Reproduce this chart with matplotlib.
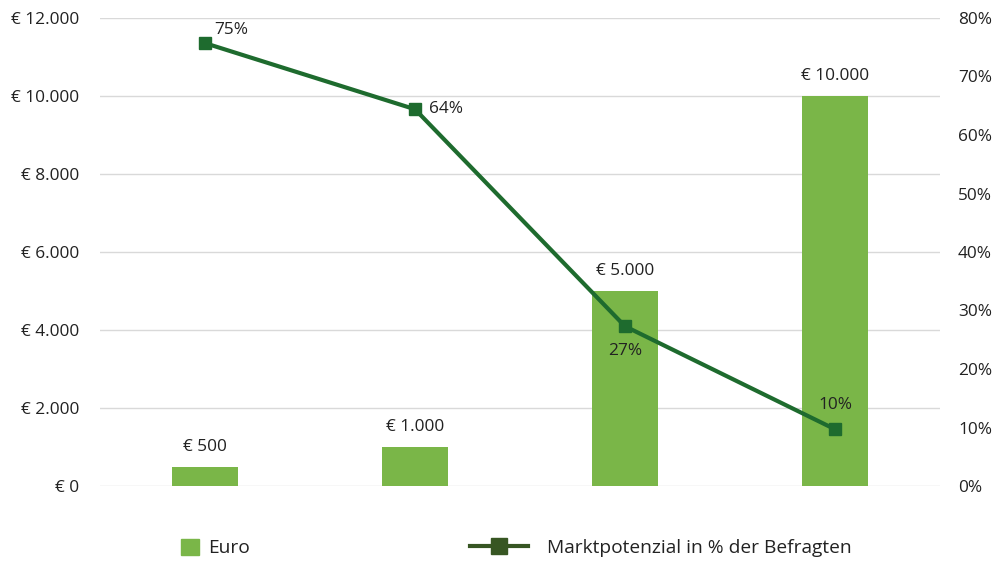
import matplotlib.pyplot as plt
import numpy as np
from matplotlib.lines import Line2D
from matplotlib.patches import Patch

plt.rcParams['font.family'] = ['Open Sans', 'DejaVu Sans']

kategorien = ['500', '1.000', '5.000', '10.000']
euro = [500, 1000, 5000, 10000]
markt = [75.7, 64.4, 27.3, 9.7]
markt_labels = ['75%', '64%', '27%', '10%']

bar_col = '#7AB648'
line_col = '#1E6B2E'
txt = '#222222'
fs = 12.4

fig = plt.figure(figsize=(9.97, 5.62), dpi=100)
ax = fig.add_axes([100/997, 1-486/562, 840/997, 468/562])
ax2 = ax.twinx()

x = np.arange(len(euro))
ax.bar(x, euro, width=0.31, color=bar_col, zorder=2)
ax.set_xlim(-0.5, 3.5)
ax.set_ylim(0, 12000)
ax.set_yticks(np.arange(0, 12001, 2000))
ax.set_yticklabels(['€ ' + f'{v:,}'.replace(',', '.') for v in range(0, 12001, 2000)])
ax.yaxis.grid(True, color='#D9D9D9', lw=1)
ax.set_axisbelow(True)
ax.set_xticks([])
for s in ax.spines.values():
    s.set_visible(False)
for s in ax2.spines.values():
    s.set_visible(False)
ax.tick_params(axis='y', length=0, pad=15, labelsize=fs, labelcolor=txt)

for xi, v in zip(x, euro):
    ax.text(xi, v + 300, '€ ' + f'{v:,}'.replace(',', '.'), ha='center', va='bottom',
            fontsize=fs, color=txt)

ax2.plot(x, markt, color=line_col, lw=3, marker='s', ms=8, zorder=3)
ax2.set_ylim(0, 80)
ax2.set_yticks(np.arange(0, 81, 10))
ax2.set_yticklabels([f'{v}%' for v in range(0, 81, 10)])
ax2.tick_params(axis='y', length=0, pad=13, labelsize=fs, labelcolor=txt)

offs = [(7, 4, 'left', 'bottom'), (10, 0, 'left', 'center'),
        (0, -12, 'center', 'top'), (0, 12, 'center', 'bottom')]
for xi, v, lab, (dx, dy, ha, va) in zip(x, markt, markt_labels, offs):
    ax2.annotate(lab, (xi, v), xytext=(dx, dy), textcoords='offset points',
                 ha=ha, va=va, fontsize=fs, color=txt)

h1 = [Patch(color=bar_col, label='Euro')]
h2 = [Line2D([0], [0], color='#375623', lw=3, marker='s', ms=11,
             label='Marktpotenzial in % der Befragten')]
fig.legend(handles=h1, loc='center left', bbox_to_anchor=(164/997, 1-548/562),
           frameon=False, fontsize=13.8, handlelength=0.95, handleheight=0.95,
           handletextpad=0.45, labelcolor=txt)
fig.legend(handles=h2, loc='center left', bbox_to_anchor=(453/997, 1-548/562),
           frameon=False, fontsize=13.8, handlelength=3.0, handletextpad=1.0,
           labelcolor=txt)

fig.savefig('out.png', dpi=100)
